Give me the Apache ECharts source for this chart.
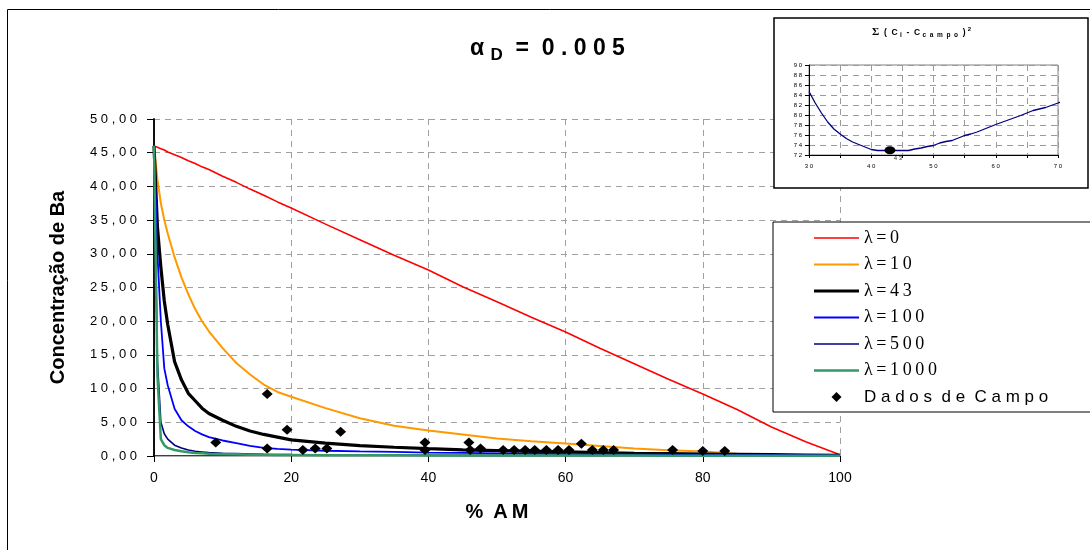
<!DOCTYPE html>
<html>
<head>
<meta charset="utf-8">
<script src="https://cdn.jsdelivr.net/npm/echarts@6/dist/echarts.min.js"></script>
<style>
  html, body { margin: 0; padding: 0; background: #fff; }
  #chart { width: 1090px; height: 550px; }
</style>
</head>
<body>
<div id="chart"></div>
<script>
// abscissa shared by the model curves (% AM)
const xs = [0, 0.5, 1, 1.5, 2, 3, 4, 5, 6, 7, 8, 10, 12, 14, 16, 18, 20,
  25, 30, 35, 40, 45, 50, 55, 60, 65, 70, 75, 80, 85, 90, 95, 100];

// concentração de Ba para cada lambda
const lam0 = [46.0, 45.8, 45.6, 45.4, 45.1, 44.7, 44.3, 43.8, 43.4, 42.9, 42.5, 41.5, 40.6, 39.6, 38.7, 37.7, 36.8,
  34.4, 32.1, 29.8, 27.6, 25.1, 22.9, 20.6, 18.4, 16.0, 13.7, 11.4, 9.2, 6.9, 4.3, 2.1, 0.2];
const lam10 = [46, 41, 37.5, 35, 33, 29.5, 26.5, 24, 21.8, 20, 18.5, 16, 13.8, 12.1, 10.6, 9.5, 8.8,
  7.1, 5.6, 4.5, 3.8, 3.2, 2.6, 2.2, 1.85, 1.5, 1.1, 0.85, 0.65, 0.35, 0.2, 0.1, 0.05];
const lam43 = [46, 34, 28, 23, 19.5, 14, 11.3, 9.3, 8.2, 7.1, 6.3, 5.3, 4.4, 3.7, 3.2, 2.8, 2.4,
  1.9, 1.55, 1.3, 1.08, 0.9, 0.8, 0.7, 0.6, 0.5, 0.4, 0.35, 0.3, 0.25, 0.2, 0.15, 0.1];
const lam100 = [46, 30, 20, 13, 10.5, 7, 5.3, 4.4, 3.7, 3.2, 2.8, 2.3, 1.9, 1.5, 1.2, 1.05, 0.95,
  0.78, 0.68, 0.6, 0.5, 0.45, 0.4, 0.35, 0.3, 0.28, 0.25, 0.22, 0.2, 0.17, 0.15, 0.12, 0.1];
const lam500 = [46, 14, 5, 3.3, 2.5, 1.6, 1.2, 0.9, 0.7, 0.6, 0.5, 0.4, 0.35, 0.3, 0.25, 0.22, 0.2,
  0.17, 0.15, 0.13, 0.12, 0.1, 0.1, 0.09, 0.08, 0.08, 0.07, 0.07, 0.06, 0.06, 0.05, 0.05, 0.05];
const lam1000 = [46, 12, 2.5, 1.6, 1.2, 0.9, 0.7, 0.55, 0.45, 0.4, 0.35, 0.3, 0.25, 0.2, 0.18, 0.15, 0.14,
  0.12, 0.1, 0.1, 0.09, 0.08, 0.08, 0.07, 0.07, 0.06, 0.06, 0.05, 0.05, 0.05, 0.04, 0.04, 0.04];

// dados de campo
const campoX = [9.0, 16.5, 16.5, 19.4, 21.7, 23.5, 25.2, 27.2, 39.5, 39.5, 45.9, 46.1, 47.6, 50.9, 52.5,
  54.1, 55.5, 57.2, 58.9, 60.5, 62.3, 63.9, 65.5, 67.0, 75.6, 80.0, 83.2];
const campoY = [2.0, 9.2, 1.1, 3.9, 0.9, 1.1, 1.1, 3.6, 2.0, 0.9, 2.0, 0.9, 1.1, 0.9, 0.9,
  0.9, 0.9, 0.9, 0.9, 0.9, 1.8, 0.9, 0.9, 0.9, 0.9, 0.75, 0.75];

// grafico pequeno: soma dos quadrados x lambda
const insetX = [30, 31, 32, 33, 34, 35, 36, 37, 38, 39, 40, 41, 42, 43, 44, 45, 46, 47, 48, 49, 50,
  51, 52, 53, 54, 55, 56, 57, 58, 59, 60, 62, 64, 65, 66, 67, 68, 70, 71.5];
const insetY = [84.7, 82.4, 80.4, 78.6, 77.2, 76.2, 75.3, 74.6, 74.1, 73.6, 73.1, 72.9, 72.9, 72.9, 72.9, 72.9,
  72.9, 73.2, 73.4, 73.7, 73.9, 74.4, 74.7, 74.9, 75.4, 75.9, 76.2, 76.6, 77.1, 77.6, 78.1, 79.0, 79.9,
  80.4, 80.9, 81.2, 81.5, 82.4, 83.1];
const bestX = [43];
const bestY = [72.95];

const yTicks = [0, 5, 10, 15, 20, 25, 30, 35, 40, 45, 50];
const xTicks = [0, 20, 40, 60, 80, 100];

const zip = (a, b) => a.map((v, i) => [v, b[i]]);
const spaced = s => String(s).split('').join(' ');
const SANS = 'Liberation Sans';
const SERIF = 'Liberation Serif';

const curves = [
  { name: 'λ=0', ys: lam0, color: '#ff0000', width: 1.6 },
  { name: 'λ=10', ys: lam10, color: '#ff9900', width: 2 },
  { name: 'λ=43', ys: lam43, color: '#000000', width: 3.2 },
  { name: 'λ=100', ys: lam100, color: '#0000ff', width: 1.8 },
  { name: 'λ=500', ys: lam500, color: '#000080', width: 1.6 },
  { name: 'λ=1000', ys: lam1000, color: '#339966', width: 2.5 },
];

const chart = echarts.init(document.getElementById('chart'));

const series = curves.map(c => ({
  name: c.name,
  type: 'line',
  xAxisIndex: 0,
  yAxisIndex: 0,
  data: zip(xs, c.ys),
  symbol: 'none',
  lineStyle: { color: c.color, width: c.width },
  itemStyle: { color: c.color },
}));

series.push({
  name: 'Dados de Campo',
  type: 'scatter',
  xAxisIndex: 0,
  yAxisIndex: 0,
  data: zip(campoX, campoY),
  symbol: 'diamond',
  symbolSize: [11, 10],
  itemStyle: { color: '#000', opacity: 1 },
  z: 5,
});

// inset
series.push({
  name: 'soma',
  type: 'line',
  xAxisIndex: 2,
  yAxisIndex: 2,
  data: zip(insetX, insetY),
  symbol: 'none',
  clip: false,
  lineStyle: { color: '#000080', width: 1.3 },
  z: 6,
});
series.push({
  name: 'minimo',
  type: 'scatter',
  xAxisIndex: 2,
  yAxisIndex: 2,
  data: zip(bestX, bestY),
  symbol: 'circle',
  symbolSize: [11, 8],
  itemStyle: { color: '#000', opacity: 1 },
  label: {
    show: true, position: 'bottom', distance: 1, offset: [8, 0],
    formatter: p => spaced(p.value[0]), fontSize: 6, color: '#333', fontFamily: SANS,
  },
  z: 7,
});

// legend line icons: flat bars as thick as each curve
const lineIcon = w => 'path://M0,0H45V' + w + 'H0Z';

const option = {
  animation: false,
  backgroundColor: '#fff',
  title: [
    {
      left: 470, top: 34, padding: 0,
      text: '{a|α }{s|D}{a|  =  0 . 0 0 5}',
      textStyle: {
        rich: {
          a: { fontSize: 23, fontWeight: 'bold', fontFamily: SANS, color: '#000', lineHeight: 30 },
          s: { fontSize: 17, fontWeight: 'bold', fontFamily: SANS, color: '#000', lineHeight: 14, verticalAlign: 'bottom' },
        },
      },
    },
    {
      left: 872, top: 26, padding: 0,
      text: '{g|Σ}{m|  (  C }{s|i}{m|  -  C }{s|c  a  m  p  o}{m|  ) }{p|2}',
      textStyle: {
        rich: {
          g: { fontSize: 11, fontWeight: 'bold', fontFamily: SERIF, color: '#000', lineHeight: 13 },
          m: { fontSize: 8.5, fontWeight: 'bold', fontFamily: SANS, color: '#000', lineHeight: 13 },
          s: { fontSize: 6.5, fontWeight: 'bold', fontFamily: SANS, color: '#000', lineHeight: 7, verticalAlign: 'bottom' },
          p: { fontSize: 6, fontWeight: 'bold', fontFamily: SANS, color: '#000', lineHeight: 7, verticalAlign: 'top' },
        },
      },
    },
  ],
  legend: {
    orient: 'vertical',
    left: 773,
    top: 222,
    padding: [7, 70, 6, 41],
    itemWidth: 45,
    itemHeight: 10,
    itemGap: 8.5,
    borderColor: '#000',
    borderWidth: 1,
    backgroundColor: '#fff',
    formatter: name => name === 'Dados de Campo'
      ? 'D a d o s  d e  C a m p o'
      : name.split('').join('\u2009'),
    textStyle: { color: '#000', fontFamily: SERIF, fontSize: 18, lineHeight: 18 },
    data: curves.map(c => ({ name: c.name, icon: lineIcon(c.width) })).concat([{
      name: 'Dados de Campo',
      icon: 'path://M0,-1L1,0L0,1L-1,0Z',
      textStyle: { fontFamily: SANS, fontSize: 17 },
    }]),
  },
  grid: [
    { left: 154, top: 119, width: 686, height: 337, show: false },
    { left: 809, top: 65, width: 249, height: 90, show: true, borderColor: '#808080', borderWidth: 1, z: 3 },
  ],
  xAxis: [
    {
      gridIndex: 0, type: 'value', min: 0, max: 100, interval: 20,
      name: '%\u2002A\u2009M', nameLocation: 'middle', nameGap: 46,
      nameTextStyle: { fontSize: 20, fontWeight: 'bold', fontFamily: SANS, color: '#000' },
      axisLine: { lineStyle: { color: '#000', width: 1.5 } },
      axisTick: { show: true, length: 6, lineStyle: { color: '#000' } },
      axisLabel: { margin: 15, fontSize: 14, color: '#000', fontFamily: SANS,
        formatter: v => xTicks.includes(v) ? String(v) : '' },
      splitLine: { show: true, lineStyle: { color: '#a0a0a0', type: [6, 5] } },
    },
    {
      gridIndex: 0, type: 'value', min: 0, max: 100, position: 'top',
      axisLine: { show: true, lineStyle: { color: '#b0b0b0', width: 1 } },
      axisTick: { show: false }, axisLabel: { show: false }, splitLine: { show: false },
    },
    {
      gridIndex: 1, type: 'value', min: 30, max: 70, interval: 5, z: 3,
      axisLine: { lineStyle: { color: '#000', width: 1 } },
      axisTick: { show: true, length: 3, lineStyle: { color: '#000' } },
      axisLabel: { margin: 8, fontSize: 6, color: '#000', fontFamily: SANS,
        formatter: v => v % 10 === 0 ? spaced(v) : '' },
      splitLine: { show: true, lineStyle: { color: '#9a9a9a', type: [6, 5] } },
    },
  ],
  yAxis: [
    {
      gridIndex: 0, type: 'value', min: 0, max: 50, interval: 5,
      name: 'Concentração de Ba', nameLocation: 'middle', nameGap: 86,
      nameTextStyle: { fontSize: 20, fontWeight: 'bold', fontFamily: SANS, color: '#000' },
      axisLine: { show: true, lineStyle: { color: '#000', width: 1.5 } },
      axisTick: { show: true, length: 7, lineStyle: { color: '#000' } },
      axisLabel: { margin: 17, fontSize: 13, color: '#000', fontFamily: SANS,
        formatter: v => yTicks.includes(v) ? spaced(v.toFixed(2).replace('.', ',')) : '' },
      splitLine: { show: true, lineStyle: { color: '#a0a0a0', type: [6, 5] } },
    },
    {
      gridIndex: 0, type: 'value', min: 0, max: 50, position: 'right',
      axisLine: { show: true, lineStyle: { color: '#000', width: 1.5 } },
      axisTick: { show: false }, axisLabel: { show: false }, splitLine: { show: false },
    },
    {
      gridIndex: 1, type: 'value', min: 72, max: 90, interval: 2, z: 3,
      axisLine: { show: true, lineStyle: { color: '#000', width: 1 } },
      axisTick: { show: true, length: 4, lineStyle: { color: '#000' } },
      axisLabel: { margin: 7, fontSize: 6, color: '#000', fontFamily: SANS, formatter: v => spaced(v) },
      splitLine: { show: true, lineStyle: { color: '#9a9a9a', type: [6, 5] } },
    },
  ],
  graphic: [
    {
      type: 'rect', z: 0, silent: true,
      shape: { x: 7.5, y: 9.5, width: 1200, height: 700 },
      style: { fill: null, stroke: '#000', lineWidth: 1 },
    },
    {
      type: 'rect', z: 1, silent: true,
      shape: { x: 774, y: 18, width: 314, height: 170 },
      style: { fill: '#fff', stroke: '#000', lineWidth: 1.5 },
    },
  ],
  series: series,
};

chart.setOption(option);
</script>
</body>
</html>
